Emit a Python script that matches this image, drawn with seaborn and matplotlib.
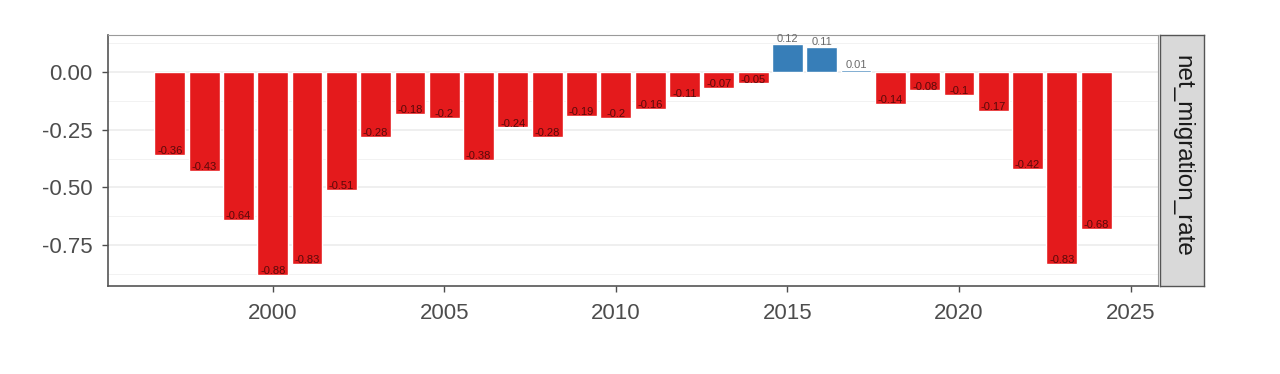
import numpy as np
import pandas as pd
import matplotlib
matplotlib.use("Agg")
import matplotlib.pyplot as plt
import seaborn as sns

years = list(range(1997, 2025))
net_migration_rate = [-0.36, -0.43, -0.64, -0.88, -0.83, -0.51, -0.28, -0.18, -0.2, -0.38,
                      -0.24, -0.28, -0.19, -0.2, -0.16, -0.11, -0.07, -0.05, 0.12, 0.11,
                      0.01, -0.14, -0.08, -0.1, -0.17, -0.42, -0.83, -0.68]
x_ticks = [2000, 2005, 2010, 2015, 2020, 2025]
y_ticks = [0.0, -0.25, -0.5, -0.75]
facet_label = "net_migration_rate"

df = pd.DataFrame({"year": years, "value": net_migration_rate})
df["sign"] = np.where(df["value"] >= 0, "pos", "neg")

sns.set_style("white")
plt.rcParams["font.family"] = ["Liberation Sans", "DejaVu Sans"]

fig = plt.figure(figsize=(12.8, 3.74), dpi=100)
ax = fig.add_axes([108 / 1280, 1 - 286 / 374, 1050 / 1280, 251 / 374])
strip = fig.add_axes([1160 / 1280, 1 - 286 / 374, 44 / 1280, 251 / 374])

# grid first so bars sit on top
for v in y_ticks:
    ax.axhline(v, color="#EBEBEB", lw=1.1, zorder=0)
for v in np.arange(0.125, -0.9, -0.25):
    ax.axhline(v, color="#F2F2F2", lw=0.7, zorder=0)

sns.barplot(data=df, x="year", y="value", hue="sign", native_scale=True,
            palette={"neg": "#E41A1C", "pos": "#377EB8"}, width=0.9,
            saturation=1, legend=False, ax=ax, zorder=2)

for yr, val in zip(years, net_migration_rate):
    lab = f"{val:g}"
    if val < 0:
        ax.text(yr, val - 0.005, lab, ha="center", va="bottom", fontsize=8,
                color="#5a0a0a", zorder=3)
    else:
        ax.text(yr, val, lab, ha="center", va="bottom", fontsize=8,
                color="#6b6b6b", zorder=3)

ax.set_xlim(1995.2, 2025.8)
ax.set_ylim(-0.927, 0.16)
ax.set_xticks(x_ticks)
ax.set_yticks(y_ticks)
ax.set_yticklabels([f"{v:.2f}" for v in y_ticks])
ax.set_xlabel("")
ax.set_ylabel("")
ax.tick_params(axis="both", colors="#4D4D4D", labelsize=16, length=4, width=1,
               direction="out", left=True, bottom=True)
ax.tick_params(axis="y", pad=7)
ax.tick_params(axis="x", pad=8)
for s in ["top", "right"]:
    ax.spines[s].set_color("#9a9a9a")
    ax.spines[s].set_linewidth(0.8)
for s in ["left", "bottom"]:
    ax.spines[s].set_color("#555555")
    ax.spines[s].set_linewidth(1.2)

strip.set_facecolor("#D9D9D9")
strip.set_xticks([])
strip.set_yticks([])
for s in strip.spines.values():
    s.set_color("#555555")
    s.set_linewidth(1.0)
strip.text(0.5, 0.52, facet_label, rotation=-90, ha="center", va="center",
           fontsize=17.5, color="#1A1A1A", transform=strip.transAxes)

fig.savefig("out.png", dpi=100)
